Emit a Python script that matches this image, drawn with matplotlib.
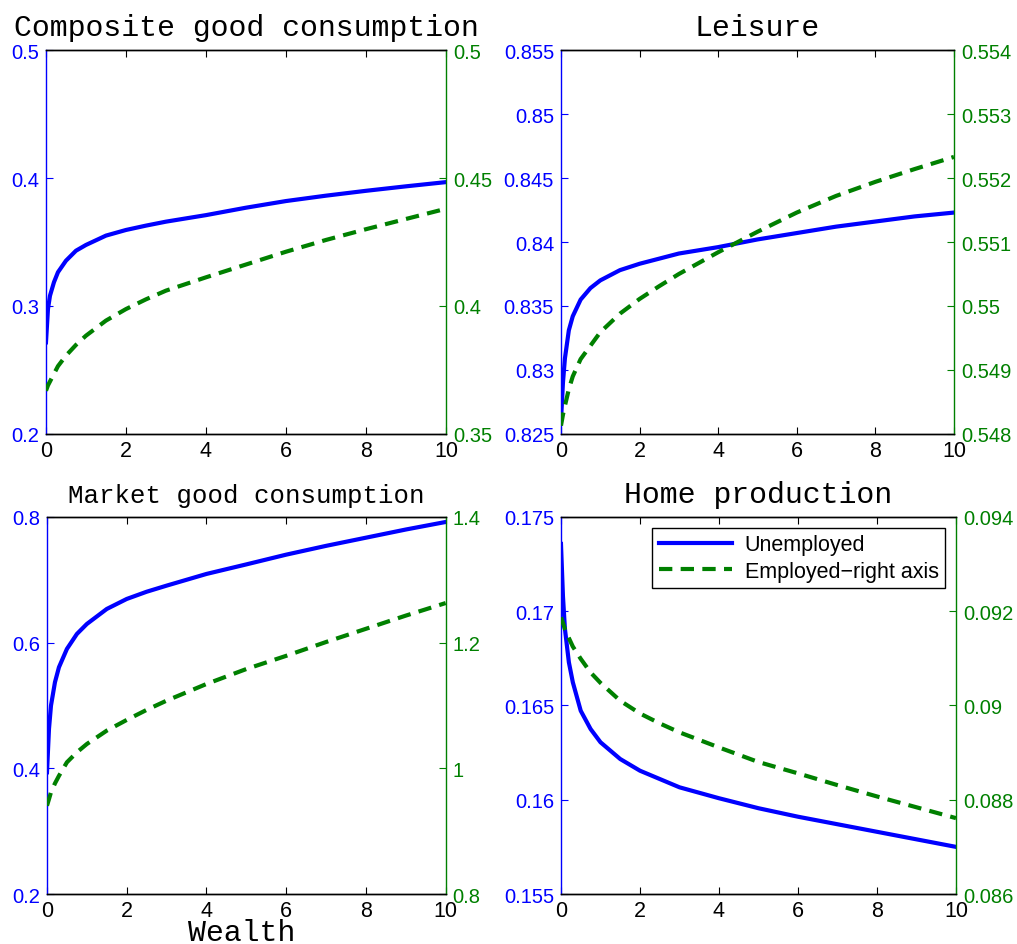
import numpy as np
import matplotlib
matplotlib.use('Agg')
import matplotlib.pyplot as plt
from matplotlib.lines import Line2D

# wealth grid
wealth = [0, 0.05, 0.1, 0.2, 0.3, 0.5, 0.75, 1, 1.5, 2, 2.5, 3, 4, 5, 6, 7, 8, 9, 10]

# Composite good consumption
comp_unemp = [0.2716, 0.2977, 0.3080, 0.3186, 0.3264, 0.3354, 0.3432, 0.3477, 0.3550, 0.3594,
              0.3628, 0.3659, 0.3710, 0.3768, 0.3820, 0.3862, 0.3900, 0.3935, 0.3968]
comp_emp = [0.3669, 0.3690, 0.3705, 0.3735, 0.3765, 0.3806, 0.3848, 0.3884, 0.3943, 0.3988,
            0.4026, 0.4060, 0.4112, 0.4162, 0.4212, 0.4258, 0.4300, 0.4340, 0.4380]

# Leisure
leis_unemp = [0.8260, 0.8290, 0.8309, 0.8331, 0.8342, 0.8355, 0.8364, 0.8370, 0.8378, 0.8383,
              0.8387, 0.8391, 0.8396, 0.8402, 0.8407, 0.8412, 0.8416, 0.8420, 0.8423]
leis_emp = [0.54813, 0.54830, 0.54844, 0.54870, 0.54890, 0.54917, 0.54938, 0.54959, 0.54988, 0.55011,
            0.55031, 0.55050, 0.55084, 0.55116, 0.55146, 0.55172, 0.55194, 0.55214, 0.55233]

# Market good consumption
mkt_unemp = [0.3937, 0.4626, 0.4997, 0.5370, 0.5608, 0.5900, 0.6138, 0.6297, 0.6536, 0.6695,
             0.6810, 0.6907, 0.7093, 0.7245, 0.7400, 0.7540, 0.7670, 0.7800, 0.7920]
mkt_emp = [0.9405, 0.9510, 0.9619, 0.9760, 0.9880, 1.0096, 1.0255, 1.0387, 1.0600, 1.0770,
           1.0930, 1.1077, 1.1342, 1.1580, 1.1790, 1.2010, 1.2220, 1.2430, 1.2630]

# Home production
home_unemp = [0.17357, 0.17080, 0.16906, 0.16729, 0.16623, 0.16472, 0.16375, 0.16305, 0.16216, 0.16154,
              0.16110, 0.16066, 0.16008, 0.15955, 0.15910, 0.15870, 0.15830, 0.15790, 0.15750]
home_emp = [0.09187, 0.09175, 0.09162, 0.09143, 0.09125, 0.09099, 0.09070, 0.09048, 0.09010, 0.08983,
            0.08962, 0.08943, 0.08911, 0.08880, 0.08856, 0.08831, 0.08807, 0.08784, 0.08761]

x_ticks = [0, 2, 4, 6, 8, 10]

panels = [
    # title, title size, left data, right data, left ticks, left labels, right ticks, right labels, rect
    ("Composite good consumption", 21.5, comp_unemp, comp_emp,
     [0.2, 0.3, 0.4, 0.5], ["0.2", "0.3", "0.4", "0.5"],
     [0.35, 0.4, 0.45, 0.5], ["0.35", "0.4", "0.45", "0.5"],
     [0.0452, 0.5397, 0.3933, 0.4063]),
    ("Leisure", 21.5, leis_unemp, leis_emp,
     [0.825, 0.83, 0.835, 0.84, 0.845, 0.85, 0.855],
     ["0.825", "0.83", "0.835", "0.84", "0.845", "0.85", "0.855"],
     [0.548, 0.549, 0.55, 0.551, 0.552, 0.553, 0.554],
     ["0.548", "0.549", "0.55", "0.551", "0.552", "0.553", "0.554"],
     [0.5516, 0.5397, 0.3864, 0.4063]),
    ("Market good consumption", 18.5, mkt_unemp, mkt_emp,
     [0.2, 0.4, 0.6, 0.8], ["0.2", "0.4", "0.6", "0.8"],
     [0.8, 1.0, 1.2, 1.4], ["0.8", "1", "1.2", "1.4"],
     [0.0462, 0.0529, 0.3920, 0.3990]),
    ("Home production", 21.5, home_unemp, home_emp,
     [0.155, 0.16, 0.165, 0.17, 0.175], ["0.155", "0.16", "0.165", "0.17", "0.175"],
     [0.086, 0.088, 0.09, 0.092, 0.094], ["0.086", "0.088", "0.09", "0.092", "0.094"],
     [0.5516, 0.0529, 0.3884, 0.3990]),
]

blue = (0, 0, 1)
green = (0, 0.5, 0)
tick_font = 'Liberation Sans'
title_font = 'Liberation Mono'
dash = (0, (3.2, 2.0))

fig = plt.figure(figsize=(10.17, 9.45), dpi=100)

for i, (title, tsize, yl, yr, lt, ltl, rt, rtl, rect) in enumerate(panels):
    ax = fig.add_axes(rect)
    ax2 = ax.twinx()
    ax.plot(wealth, yl, color=blue, lw=3, solid_joinstyle='round')
    ax2.plot(wealth, yr, color=green, lw=3, linestyle=dash)

    ax.set_xlim(0, 10)
    ax.set_ylim(lt[0], lt[-1])
    ax2.set_ylim(rt[0], rt[-1])
    ax.set_xticks(x_ticks)
    ax.set_xticklabels([str(t) for t in x_ticks], fontfamily=tick_font, fontsize=15.5)
    ax.set_yticks(lt)
    ax.set_yticklabels(ltl, fontfamily=tick_font, fontsize=14.5, color=blue)
    ax2.set_yticks(rt)
    ax2.set_yticklabels(rtl, fontfamily=tick_font, fontsize=14.5, color=green)

    ax.tick_params(axis='x', direction='in', top=True, length=5, width=0.8, pad=4)
    ax.tick_params(axis='y', direction='in', length=5, width=0.8, colors=blue, pad=5)
    ax2.tick_params(axis='y', direction='in', length=5, width=0.8, colors=green, pad=5)

    ax.spines['left'].set_color(blue)
    ax.spines['right'].set_visible(False)
    ax2.spines['right'].set_color(green)
    ax2.spines['left'].set_visible(False)
    for a in (ax, ax2):
        for s in a.spines.values():
            s.set_linewidth(1.0)

    ax.set_title(title, fontfamily=title_font, fontsize=tsize, pad=11)

    if i == 2:
        ax.set_xlabel("Wealth", fontfamily=title_font, fontsize=21.5, labelpad=-2)
        ax.xaxis.label.set_x(0.487)

    if i == 3:
        handles = [Line2D([], [], color=blue, lw=3),
                   Line2D([], [], color=green, lw=3, linestyle=dash)]
        leg = ax2.legend(handles, ["Unemployed", "Employed\u2212right axis"],
                         loc='upper right', prop={'family': tick_font, 'size': 15.5},
                         fancybox=False, framealpha=1, edgecolor='black',
                         borderpad=0.3, labelspacing=0.25, handlelength=3.4,
                         handletextpad=0.6, borderaxespad=0.5)
        leg.get_frame().set_linewidth(1.0)

fig.savefig('out.png', dpi=100)
